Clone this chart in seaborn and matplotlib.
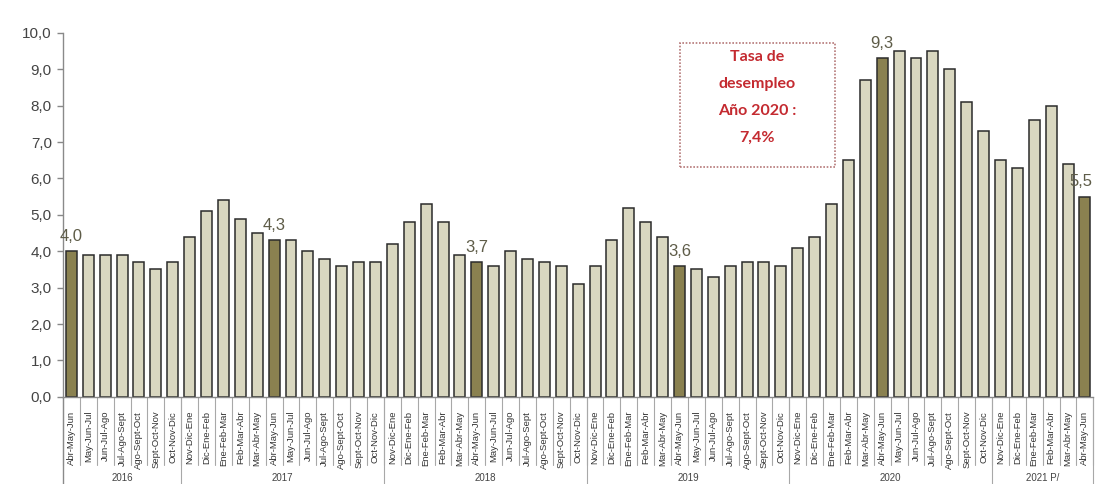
import matplotlib
matplotlib.use("Agg")
import matplotlib.pyplot as plt
import matplotlib.transforms as mtransforms
from matplotlib.patches import Rectangle
import seaborn as sns
import pandas as pd

# Rolling quarters (trimestre móvil)
quarters = ["Nov-Dic-Ene", "Dic-Ene-Feb", "Ene-Feb-Mar", "Feb-Mar-Abr",
            "Mar-Abr-May", "Abr-May-Jun", "May-Jun-Jul", "Jun-Jul-Ago",
            "Jul-Ago-Sept", "Ago-Sept-Oct", "Sept-Oct-Nov", "Oct-Nov-Dic"]
years = ["2016", "2017", "2018", "2019", "2020", "2021 P/"]
year_quarters = [quarters[5:], quarters, quarters, quarters, quarters, quarters[:6]]

rate_2016 = [4.0, 3.9, 3.9, 3.9, 3.7, 3.5, 3.7]
rate_2017 = [4.4, 5.1, 5.4, 4.9, 4.5, 4.3, 4.3, 4.0, 3.8, 3.6, 3.7, 3.7]
rate_2018 = [4.2, 4.8, 5.3, 4.8, 3.9, 3.7, 3.6, 4.0, 3.8, 3.7, 3.6, 3.1]
rate_2019 = [3.6, 4.3, 5.2, 4.8, 4.4, 3.6, 3.5, 3.3, 3.6, 3.7, 3.7, 3.6]
rate_2020 = [4.1, 4.4, 5.3, 6.5, 8.7, 9.3, 9.5, 9.3, 9.5, 9.0, 8.1, 7.3]
rate_2021 = [6.5, 6.3, 7.6, 8.0, 6.4, 5.5]
year_rates = [rate_2016, rate_2017, rate_2018, rate_2019, rate_2020, rate_2021]

highlight_quarter = "Abr-May-Jun"
box_lines = ["Tasa de", "desempleo", "Año 2020 :", "7,4%"]

rows = []
for yr, qs, rs in zip(years, year_quarters, year_rates):
    for q, r in zip(qs, rs):
        rows.append({"key": f"{yr}|{q}", "year": yr, "quarter": q, "rate": r,
                     "hl": q == highlight_quarter})
df = pd.DataFrame(rows)

LIGHT = "#d9d7c0"
DARK = "#8a8150"
palette = {k: (DARK if h else LIGHT) for k, h in zip(df["key"], df["hl"])}

sns.set_theme(style="white")
plt.rcParams["font.family"] = ["Liberation Sans", "DejaVu Sans"]

fig = plt.figure(figsize=(10.95, 4.84), dpi=100)
ax = fig.add_axes([0.0575, 0.180, 0.941, 0.752])

sns.barplot(data=df, x="key", y="rate", hue="key", palette=palette,
            legend=False, width=0.65, saturation=1, edgecolor="#2b2b2b",
            linewidth=1.1, ax=ax)

n = len(df)
ax.set_xlim(-0.5, n - 0.5)
ax.set_ylim(0, 10)
ax.set_yticks([i for i in range(11)])
ax.set_yticklabels([f"{i},0" for i in range(11)], fontsize=11, color="#444444")
ax.tick_params(axis="y", left=True, length=4, width=1, color="#888888", pad=4)
ax.set_xticks(range(n))
ax.set_xticklabels(df["quarter"], rotation=90, fontsize=6.8, color="#333333",
                   va="top", ha="center")
ax.tick_params(axis="x", bottom=False, pad=4)
ax.set_xlabel("")
ax.set_ylabel("")
for s in ["top", "right"]:
    ax.spines[s].set_visible(False)
for s in ["left", "bottom"]:
    ax.spines[s].set_color("#8a8a8a")
    ax.spines[s].set_linewidth(1.0)

# Table-like separators under the axis
trans = mtransforms.blended_transform_factory(ax.transData, ax.transAxes)
for i in range(n + 1):
    ax.plot([i - 0.5, i - 0.5], [0, -0.187], transform=trans, color="#a8a8a8",
            lw=0.8, clip_on=False)
start = 0
for yr, rs in zip(years, year_rates):
    end = start + len(rs)
    ax.plot([end - 0.5, end - 0.5], [0, -0.25], transform=trans, color="#a8a8a8",
            lw=0.8, clip_on=False)
    ax.text((start + end - 1) / 2, -0.222, yr, transform=trans, ha="center",
            va="center", fontsize=7, color="#444444")
    start = end
ax.plot([-0.5, -0.5], [0, -0.25], transform=trans, color="#8a8a8a",
        lw=1.0, clip_on=False)

# Value labels on highlighted quarters
for i, row in df.iterrows():
    if row["hl"]:
        xpos = min(i, n - 1.25)
        ax.text(xpos, row["rate"] + 0.2, f"{row['rate']:.1f}".replace(".", ","),
                ha="center", va="bottom", fontsize=12, color="#5e5c48",
                clip_on=False)

# Annual rate note
ax.add_patch(Rectangle((36.0, 6.31), 9.2, 3.42, fill=False, edgecolor="#b57878",
                       linestyle=(0, (1, 1)), linewidth=1.2))
for k, line in enumerate(box_lines):
    ax.text(40.6, 9.33 - k * 0.74, line, ha="center", va="center",
            fontsize=11.5, fontweight="bold", color="#c42a30",
            family=["Lato", "DejaVu Sans"])

fig.savefig("out.png", dpi=100, facecolor="white")
